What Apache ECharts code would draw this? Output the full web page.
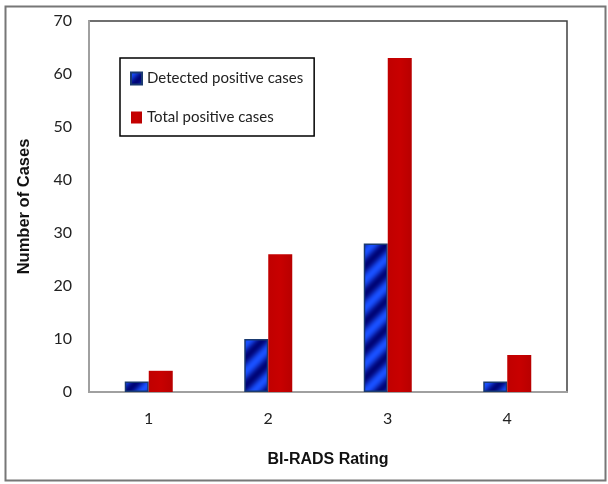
<!DOCTYPE html>
<html><head><meta charset="utf-8">
<script src="https://cdn.jsdelivr.net/npm/echarts@6/dist/echarts.min.js"></script>
<style>html,body{margin:0;padding:0;background:#fff}#c{width:608px;height:484px}</style>
</head><body><div id="c"></div>
<script>
const categories = ['1', '2', '3', '4'];
const detected = [2, 10, 28, 2];
const total = [4, 26, 63, 7];
const yTicks = { min: 0, max: 70, interval: 10 };

function stripePattern() {
  const S = 28;
  const cv = document.createElement('canvas');
  cv.width = S; cv.height = S;
  const ctx = cv.getContext('2d');
  const img = ctx.createImageData(S, S);
  const light = [25, 80, 255], dark = [0, 5, 120];
  for (let y = 0; y < S; y++) for (let x = 0; x < S; x++) {
    const t = ((x + y) % S) / S;
    const m = 0.5 + 0.5 * Math.cos(t * 2 * Math.PI);
    const i = (y * S + x) * 4;
    for (let k = 0; k < 3; k++) img.data[i + k] = Math.round(dark[k] + (light[k] - dark[k]) * m);
    img.data[i + 3] = 255;
  }
  ctx.putImageData(img, 0, 0);
  return cv;
}

const chart = echarts.init(document.getElementById('c'), null, { renderer: 'canvas' });
const tickFont = 'Lato';
chart.setOption({
  animation: false,
  backgroundColor: '#fff',
  graphic: [{
    type: 'rect', left: 3, top: 4, shape: { width: 600, height: 474 },
    style: { fill: 'none', stroke: '#777', lineWidth: 2 }, z: -1
  }],
  grid: { left: 89, right: 41, top: 21, bottom: 92, show: true, borderColor: '#404040', borderWidth: 1.5, backgroundColor: '#fff' },
  legend: {
    orient: 'vertical', left: 120, top: 58,
    padding: [13, 11, 11, 10], itemGap: 24,
    itemWidth: 11, itemHeight: 12, icon: 'rect',
    borderColor: '#000', borderWidth: 1.5,
    textStyle: { fontFamily: tickFont, fontSize: 15, color: '#222' },
    data: ['Detected positive cases', 'Total positive cases']
  },
  xAxis: {
    type: 'category', data: categories,
    name: 'BI-RADS Rating', nameLocation: 'middle', nameGap: 60,
    nameTextStyle: { fontFamily: 'Liberation Sans', fontWeight: 'bold', fontSize: 16, color: '#111' },
    axisLine: { lineStyle: { color: '#a0a0a0', width: 2 } },
    axisTick: { show: false },
    axisLabel: { fontFamily: tickFont, fontSize: 16, color: '#222', margin: 19 }
  },
  yAxis: {
    type: 'value', min: yTicks.min, max: yTicks.max, interval: yTicks.interval,
    name: 'Number of Cases', nameLocation: 'middle', nameGap: 56,
    nameTextStyle: { fontFamily: 'Liberation Sans', fontWeight: 'bold', fontSize: 16.5, color: '#111' },
    axisLine: { show: true, lineStyle: { color: '#a0a0a0', width: 2 } },
    axisTick: { show: false },
    splitLine: { show: false },
    axisLabel: { fontFamily: tickFont, fontSize: 16, color: '#222', margin: 17 }
  },
  series: [{
    name: 'Detected positive cases', type: 'bar', data: detected,
    barWidth: 24, barGap: '0%',
    itemStyle: { color: { image: stripePattern(), repeat: 'repeat' }, borderColor: '#1a3a70', borderWidth: 1.5 }
  }, {
    name: 'Total positive cases', type: 'bar', data: total,
    barWidth: 24,
    itemStyle: {
      color: { type: 'linear', x: 0, y: 0, x2: 1, y2: 0, colorStops: [
        { offset: 0, color: '#c00000' }, { offset: 0.5, color: '#c80000' }, { offset: 1, color: '#b80000' }] },
      borderColor: '#c00000', borderWidth: 0
    }
  }]
});
</script></body></html>
